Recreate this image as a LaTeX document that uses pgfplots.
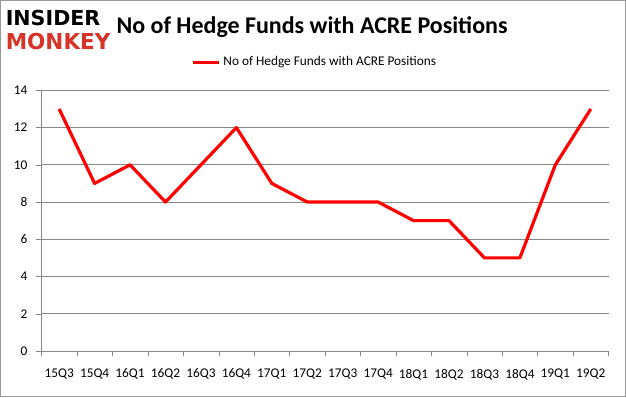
\documentclass[border=0pt]{standalone}
\usepackage{pgfplots}
\pgfplotsset{compat=1.18}
\usepackage{fontspec}
\setmainfont{Carlito}
\newfontfamily\logofont{DejaVu Sans}
\definecolor{gridgray}{RGB}{134,134,134}
\definecolor{logored}{RGB}{214,52,40}
\begin{document}
\begin{tikzpicture}
\draw[gray!80,line width=0.8pt,fill=white] (0,0) rectangle (469.5pt,297.75pt);
% logo
\node[anchor=west,inner sep=0,font=\logofont\bfseries\fontsize{15.5}{15.5}\selectfont,xscale=1.0] at (3.75pt,284.5pt) {INSIDER};
\node[anchor=west,inner sep=0,font=\logofont\bfseries\fontsize{16.5}{16.5}\selectfont,text=logored,xscale=0.98] at (3.75pt,267pt) {MONKEY};
% title
\node[font=\bfseries\fontsize{18}{20}\selectfont] at (234pt,277.5pt) {No of Hedge Funds with ACRE Positions};
% legend
\draw[red,line width=1.8pt] (144.75pt,251.25pt) -- (164.25pt,251.25pt);
\node[anchor=west,inner sep=0,font=\fontsize{10}{11}\selectfont] at (167.25pt,251.25pt) {No of Hedge Funds with ACRE Positions};
\begin{axis}[
  at={(30.75pt,34.5pt)}, anchor=south west,
  scale only axis, width=426pt, height=195.75pt,
  xmin=-0.5, xmax=15.5, ymin=0, ymax=14,
  ytick={0,2,...,14},
  xtick={0,...,15},
  xticklabels={15Q3,15Q4,16Q1,16Q2,16Q3,16Q4,17Q1,17Q2,17Q3,17Q4,18Q1,18Q2,18Q3,18Q4,19Q1,19Q2},
  minor xtick={-0.5,0.5,...,15.5},
  axis x line=bottom, axis y line=left,
  axis line style={gridgray,-},
  x axis line style={-}, y axis line style={-},
  ymajorgrids, major grid style={gridgray,line width=0.6pt},
  tick align=outside,
  major x tick style={draw=none},
  minor x tick style={gridgray},
  minor tick length=4pt,
  major tick length=4pt,
  y tick style={gridgray},
  tick label style={font=\fontsize{10}{11}\selectfont},
  /pgf/number format/assume math mode=true,
  xticklabel style={yshift=-6pt},
  yticklabel style={xshift=-3pt},
  clip=false,
]
\addplot[red,line width=2.4pt,line join=round] coordinates {
(0,13) (1,9) (2,10) (3,8) (4,10) (5,12) (6,9) (7,8) (8,8) (9,8) (10,7) (11,7) (12,5) (13,5) (14,10) (15,13)
};
\end{axis}
\end{tikzpicture}
\end{document}
